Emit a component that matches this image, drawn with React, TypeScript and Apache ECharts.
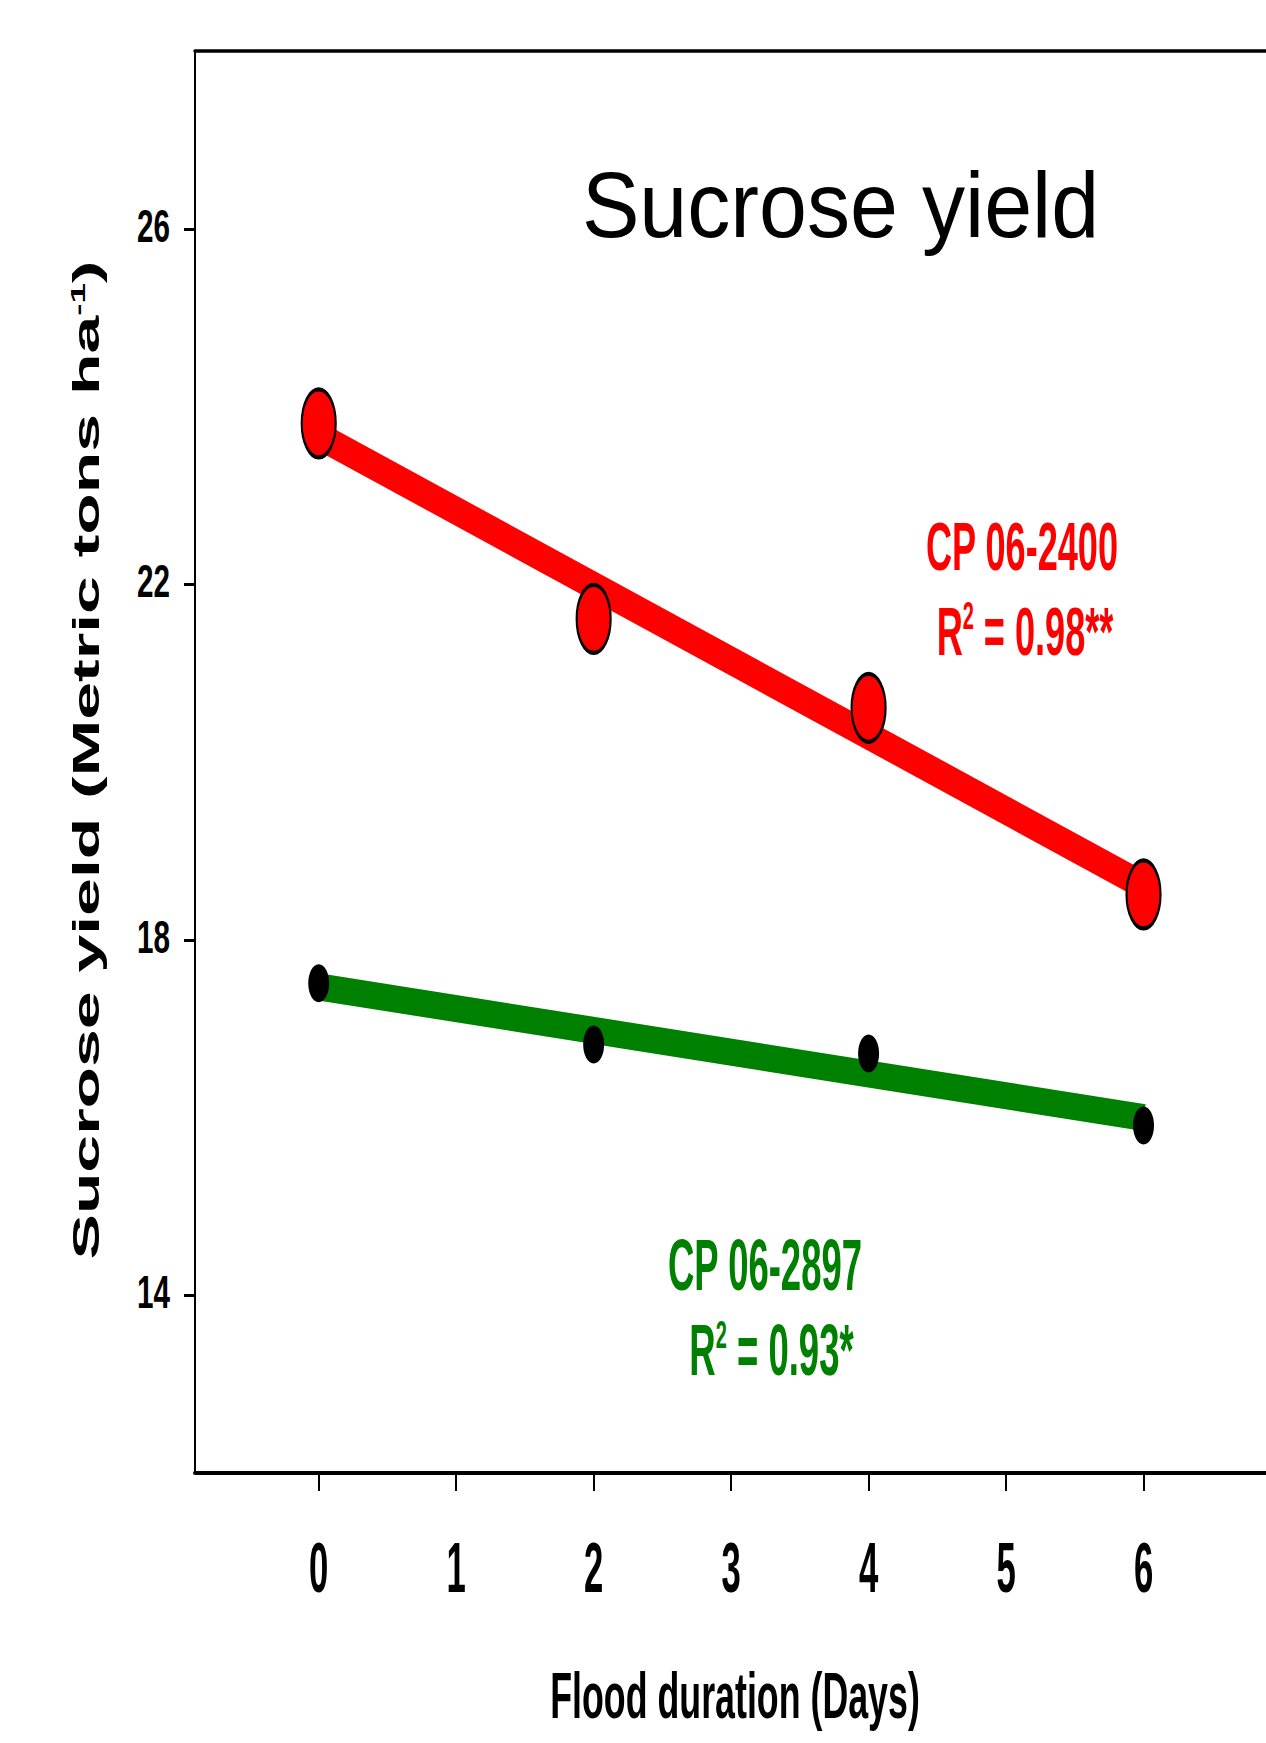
import React, { useEffect, useRef } from 'react';
import * as echarts from 'echarts';

// ---- data ----
const days = [0, 2, 4, 6];
const cp2400 = [23.81, 21.61, 20.61, 18.51];
const cp2897 = [17.51, 16.82, 16.72, 15.91];
const fitDays = [0, 6];
const fit2400 = [23.67, 18.61];
const fit2897 = [17.47, 16.0];
const xTicks = [0, 1, 2, 3, 4, 5, 6];
const yTicks = [14, 18, 22, 26];

const FONT = '"Liberation Sans", Arial, Helvetica, sans-serif';
const ELLIPSE =
  'path://M0,50 C0,22.4 22.4,0 50,0 C77.6,0 100,22.4 100,50 C100,77.6 77.6,100 50,100 C22.4,100 0,77.6 0,50 Z';

let _ctx: CanvasRenderingContext2D | null = null;
function ctx2d() {
  if (!_ctx) _ctx = document.createElement('canvas').getContext('2d');
  return _ctx as CanvasRenderingContext2D;
}
function inkWidth(text: string, weight: string, size: number) {
  const c = ctx2d();
  c.font = `${weight} ${size}px ${FONT}`;
  const m = c.measureText(text);
  return m.actualBoundingBoxLeft + m.actualBoundingBoxRight;
}
function advWidth(text: string, weight: string, size: number) {
  const c = ctx2d();
  c.font = `${weight} ${size}px ${FONT}`;
  return c.measureText(text).width;
}
function capRatio(weight: string) {
  const c = ctx2d();
  c.font = `${weight} 100px ${FONT}`;
  const m = c.measureText('H');
  return (m.actualBoundingBoxAscent || 71.6) / 100;
}
// fit a text to a target ink width and cap height
function fit(text: string, weight: string, w: number, capH: number) {
  const w100 = inkWidth(text, weight, 100) || 100;
  const size = (100 * w) / w100;
  const sy = capH / (capRatio(weight) * size);
  return { size, sy };
}

export default function App() {
  const ref = useRef<HTMLDivElement>(null);
  useEffect(() => {
    if (!ref.current) return;
    const chart = echarts.init(ref.current, undefined, { renderer: 'svg' });
    const option: any = {
      animation: false,
      backgroundColor: '#ffffff',
      grid: { left: 195, top: 51, width: 1086, height: 1422, containLabel: false, outerBoundsMode: 'none' },
      xAxis: [
        {
          type: 'value',
          min: -0.9,
          max: 7,
          position: 'bottom',
          axisLine: { show: true, onZero: false, lineStyle: { color: '#000', width: 4 } },
          axisTick: { show: true, customValues: xTicks, length: 18, lineStyle: { color: '#000', width: 2 } },
          axisLabel: { show: false },
          splitLine: { show: false },
        },
        {
          type: 'value',
          min: -0.9,
          max: 7,
          position: 'top',
          axisLine: { show: true, onZero: false, lineStyle: { color: '#000', width: 3.5 } },
          axisTick: { show: false },
          axisLabel: { show: false },
          splitLine: { show: false },
        },
      ],
      yAxis: {
        type: 'value',
        min: 12,
        max: 28,
        axisLine: { show: true, onZero: false, lineStyle: { color: '#000', width: 2 } },
        axisTick: { show: true, customValues: yTicks, length: 11, lineStyle: { color: '#000', width: 3 } },
        axisLabel: { show: false },
        splitLine: { show: false },
      },
      series: [
        {
          name: 'CP 06-2400 fit',
          type: 'line',
          data: fitDays.map((d, i) => [d, fit2400[i]]),
          symbol: 'none',
          lineStyle: { color: '#ff0000', width: 27, cap: 'butt' },
          z: 2,
          silent: true,
        },
        {
          name: 'CP 06-2897 fit',
          type: 'line',
          data: fitDays.map((d, i) => [d, fit2897[i]]),
          symbol: 'none',
          lineStyle: { color: '#008000', width: 27, cap: 'butt' },
          z: 2,
          silent: true,
        },
        {
          name: 'CP 06-2400',
          type: 'scatter',
          data: days.map((d, i) => [d, cp2400[i]]),
          symbol: ELLIPSE,
          symbolSize: [34, 68],
          itemStyle: { color: '#ff0000', borderColor: '#000', borderWidth: 3, opacity: 1 },
          z: 3,
        },
        {
          name: 'CP 06-2897',
          type: 'scatter',
          data: days.map((d, i) => [d, cp2897[i]]),
          symbol: ELLIPSE,
          symbolSize: [21, 38],
          itemStyle: { color: '#000', opacity: 1 },
          z: 3,
        },
      ],
    };
    chart.setOption(option);

    const px = (v: number) => chart.convertToPixel({ xAxisIndex: 0 } as any, v) as number;
    const py = (v: number) => chart.convertToPixel({ yAxisIndex: 0 } as any, v) as number;

    const txt = (text: string, x: number, y: number, size: number, sy: number, weight: string, fill: string, align = 'center', extra: any = {}) => ({
      type: 'text',
      x,
      y,
      scaleY: sy,
      z: 10,
      style: { text, fontSize: size, fontWeight: weight, fontFamily: FONT, fill, align, verticalAlign: 'middle', ...extra },
    });

    const g: any[] = [];
    // y tick labels
    const yf = fit('26', 'bold', 31, 32);
    yTicks.forEach((v) => g.push(txt(String(v), 170, py(v) - 3, yf.size, yf.sy, 'bold', '#000', 'right')));
    // x tick labels
    const xf = fit('0', 'bold', 17, 49);
    xTicks.forEach((v) => g.push(txt(String(v), px(v), 1567.5, xf.size, xf.sy, 'bold', '#000', 'center')));

    // title
    const tf = fit('Sucrose yield', 'normal', 509, 64);
    g.push(txt('Sucrose yield', 840.5, 205, tf.size, tf.sy, 'normal', '#000'));

    // x axis name
    const xn = fit('Flood duration (Days)', 'bold', 366, 46);
    g.push(txt('Flood duration (Days)', 735, 1695, xn.size, xn.sy, 'bold', '#000'));

    // y axis name (rotated, stretched along the text)
    const ynSize = 37;
    const supSize = 20;
    const natural =
      inkWidth('Sucrose yield (Metric tons ha', 'bold', ynSize) + advWidth('-1', 'bold', supSize) + advWidth(')', 'bold', ynSize);
    const ynSx = 998 / (natural || 600);
    g.push({
      type: 'text',
      x: 86.5,
      y: 760,
      rotation: Math.PI / 2,
      scaleX: ynSx,
      z: 10,
      style: {
        text: '{n|Sucrose yield (Metric tons ha}{s|-1}{n|)}',
        fontSize: ynSize,
        fontWeight: 'bold',
        fontFamily: FONT,
        fill: '#000',
        align: 'center',
        verticalAlign: 'middle',
        rich: {
          n: { fontSize: ynSize, fontWeight: 'bold', fontFamily: FONT, fill: '#000' },
          s: { fontSize: supSize, fontWeight: 'bold', fontFamily: FONT, fill: '#000', verticalAlign: 'top' },
        },
      },
    });

    // annotations
    const rich = (size: number, fill: string) => ({
      a: { fontSize: size, fontWeight: 'bold', fontFamily: FONT, fill },
      b: { fontSize: 20, fontWeight: 'bold', fontFamily: FONT, fill, verticalAlign: 'top' },
    });
    const rf = fit('CP 06-2400', 'bold', 190, 48);
    g.push(txt('CP 06-2400', 1022, 546, rf.size, rf.sy, 'bold', '#ff0000'));
    g.push(
      txt('{a|R}{b|2}{a| = 0.98**}', 1025, 631, rf.size, rf.sy, 'bold', '#ff0000', 'center', { rich: rich(rf.size, '#ff0000') })
    );
    const gf = fit('CP 06-2897', 'bold', 192, 50);
    g.push(txt('CP 06-2897', 765, 1265, gf.size, gf.sy, 'bold', '#008000'));
    g.push(
      txt('{a|R}{b|2}{a| = 0.93*}', 771.5, 1350, gf.size, gf.sy, 'bold', '#008000', 'center', { rich: rich(gf.size, '#008000') })
    );

    chart.setOption({ graphic: g });
    return () => chart.dispose();
  }, []);
  return <div ref={ref} style={{ position: 'absolute', left: 0, top: 0, width: 1266, height: 1743 }} />;
}
